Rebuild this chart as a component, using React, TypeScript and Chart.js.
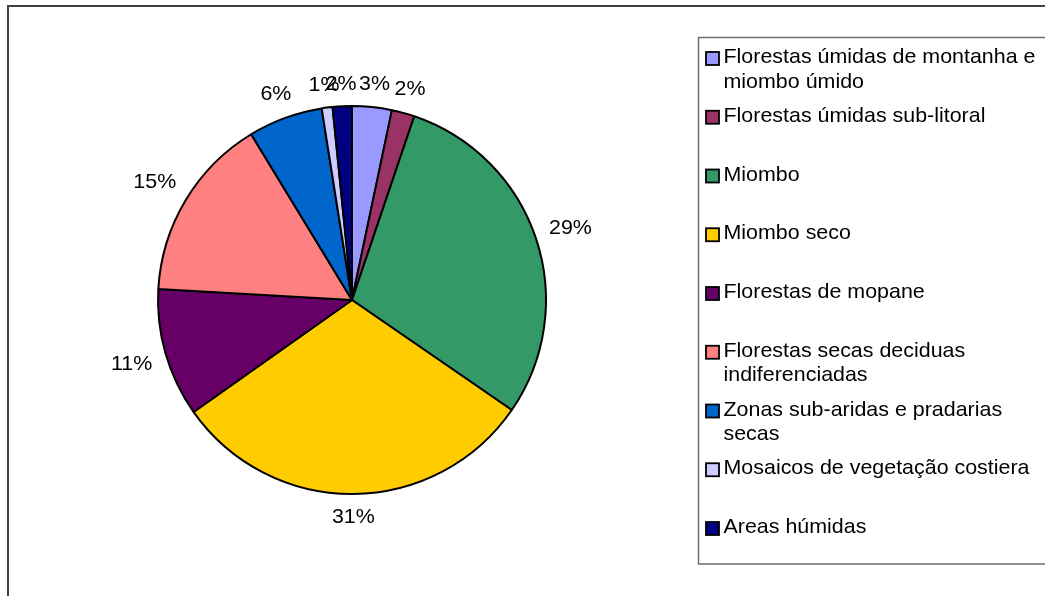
import React, { useEffect, useRef } from 'react';
import { Chart, registerables } from 'chart.js';

Chart.register(...registerables);

const categories: string[] = [
  'Florestas úmidas de montanha e miombo úmido',
  'Florestas úmidas sub-litoral',
  'Miombo',
  'Miombo seco',
  'Florestas de mopane',
  'Florestas secas deciduas indiferenciadas',
  'Zonas sub-aridas e pradarias secas',
  'Mosaicos de vegetação costiera',
  'Areas húmidas',
];

const shares: number[] = [3.3, 1.9, 29.4, 30.6, 10.7, 15.4, 6.2, 0.9, 1.6];

const sliceColors: string[] = [
  '#9999FF',
  '#993366',
  '#339966',
  '#FFCC00',
  '#660066',
  '#FF8080',
  '#0066CC',
  '#CCCCFF',
  '#000080',
];

const FONT = '21px "Liberation Sans", Arial, sans-serif';
const SX = 1.02;

function drawScaled(ctx: CanvasRenderingContext2D, txt: string, x: number, y: number) {
  ctx.save();
  ctx.translate(x, y);
  ctx.scale(SX, 1);
  ctx.fillText(txt, 0, 0);
  ctx.restore();
}

function wrap(ctx: CanvasRenderingContext2D, text: string, maxW: number): string[] {
  const words = text.split(' ');
  const lines: string[] = [];
  let cur = '';
  for (const w of words) {
    const test = cur ? cur + ' ' + w : w;
    if (cur && ctx.measureText(test).width * SX > maxW) {
      lines.push(cur);
      cur = w;
    } else {
      cur = test;
    }
  }
  if (cur) lines.push(cur);
  return lines;
}

const decorPlugin = {
  id: 'decor',
  afterDraw(chart: any) {
    const ctx: CanvasRenderingContext2D = chart.ctx;
    const meta = chart.getDatasetMeta(0);
    const data = chart.data.datasets[0].data as number[];
    const colors = chart.data.datasets[0].backgroundColor as string[];
    const labels = chart.data.labels as string[];
    const total = data.reduce((a, b) => a + b, 0);

    ctx.save();
    // outer frame
    ctx.strokeStyle = '#404040';
    ctx.lineWidth = 2;
    ctx.strokeRect(8, 6, 1200, 800);

    // percentage labels
    ctx.font = FONT;
    ctx.fillStyle = '#000';
    ctx.textAlign = 'center';
    ctx.textBaseline = 'middle';
    meta.data.forEach((arc: any, i: number) => {
      const p = arc.getProps(['x', 'y', 'startAngle', 'endAngle', 'outerRadius'], true);
      const mid = (p.startAngle + p.endAngle) / 2;
      const txt = Math.round((data[i] / total) * 100) + '%';
      const w = ctx.measureText(txt).width * SX;
      const c = Math.cos(mid);
      const s = Math.sin(mid);
      const ext = Math.abs(c) * (w / 2) + Math.abs(s) * 9;
      const d = p.outerRadius + 13 + ext;
      drawScaled(ctx, txt, p.x + c * d, p.y + s * d + 1);
    });

    // legend box
    ctx.strokeStyle = '#6e6e6e';
    ctx.lineWidth = 1.5;
    ctx.strokeRect(698.5, 37.5, 500, 526.5);

    ctx.textAlign = 'left';
    ctx.textBaseline = 'alphabetic';
    const base0 = 63;
    const step = 58.75;
    const lineGap = 24.5;
    labels.forEach((lab: string, i: number) => {
      const base = base0 + step * i;
      ctx.fillStyle = colors[i];
      ctx.fillRect(706, base - 11, 13, 13);
      ctx.strokeStyle = '#000';
      ctx.lineWidth = 1.8;
      ctx.strokeRect(706, base - 11, 13, 13);
      ctx.fillStyle = '#000';
      const lines = wrap(ctx, lab, 325);
      lines.forEach((ln, k) => drawScaled(ctx, ln, 723.5, base + k * lineGap));
    });
    ctx.restore();
  },
};

export default function App() {
  const ref = useRef<HTMLCanvasElement | null>(null);

  useEffect(() => {
    if (!ref.current) return;
    const chart = new Chart(ref.current, {
      type: 'pie',
      data: {
        labels: categories,
        datasets: [
          {
            data: shares,
            backgroundColor: sliceColors,
            borderColor: '#000000',
            borderWidth: 2,
          },
        ],
      },
      options: {
        responsive: false,
        animation: false,
        devicePixelRatio: 1,
        radius: 194,
        layout: { padding: { left: 0, right: 341, top: 4, bottom: 0 } },
        plugins: {
          legend: { display: false },
          tooltip: { enabled: false },
          title: { display: false },
        },
      } as any,
      plugins: [decorPlugin],
    });
    return () => chart.destroy();
  }, []);

  return (
    <div style={{ position: 'absolute', left: 0, top: 0, width: 1045, height: 596, background: '#fff' }}>
      <canvas ref={ref} width={1045} height={596} style={{ display: 'block' }} />
    </div>
  );
}
